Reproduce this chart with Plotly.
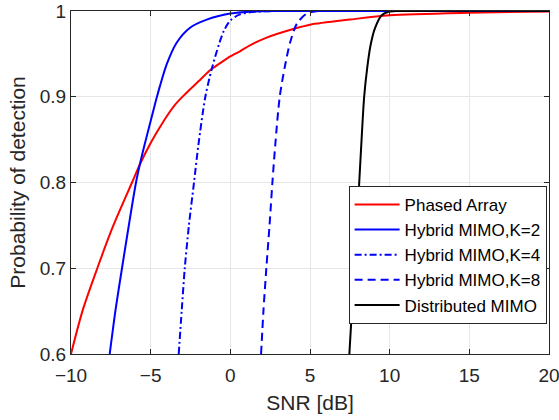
import plotly.graph_objects as go

# values (SNR in dB, probability of detection)
pa_snr = [-10, -9.25, -8.35, -7.36, -6.17, -5.63, -5, -4.5, -4, -3.5, -2.95, -2, -1.2,
          -0.5, 0, 0.6, 1.23, 2.28, 3.95, 5, 7.5, 10, 15, 20]
pa_pd = [0.600, 0.652, 0.700, 0.749, 0.800, 0.823, 0.846, 0.862, 0.877, 0.890, 0.901, 0.918,
         0.932, 0.941, 0.947, 0.953, 0.960, 0.969, 0.979, 0.984, 0.990, 0.995, 0.998, 0.9995]

k2_snr = [-7.57, -7.2, -6.8, -6.38, -5.92, -5.63, -5.3, -4.79, -4.62, -4.41, -3.99, -3.37,
          -2.53, -1.48, 0, 1.5, 3, 20]
k2_pd = [0.600, 0.652, 0.700, 0.749, 0.800, 0.825, 0.850, 0.887, 0.899, 0.913, 0.938, 0.963,
         0.9805, 0.990, 0.997, 0.9995, 1.0, 1.0]

k4_snr = [-3.24, -3.05, -2.86, -2.6, -2.28, -2.03, -1.57, -1.17, -0.7, -0.4, 0, 0.6, 1.5, 3, 20]
k4_pd = [0.600, 0.651, 0.700, 0.750, 0.800, 0.840, 0.900, 0.932, 0.962, 0.977, 0.989, 0.996,
         0.999, 1.0, 1.0]

k8_snr = [1.93, 2.08, 2.26, 2.46, 2.64, 2.82, 3.1, 3.42, 3.75, 4.17, 4.79, 5.5, 20]
k8_pd = [0.600, 0.651, 0.700, 0.750, 0.800, 0.844, 0.900, 0.935, 0.963, 0.985, 0.997, 1.0, 1.0]

dm_snr = [7.47, 7.62, 7.78, 7.94, 8.09, 8.24, 8.4, 8.6, 8.8, 9.08, 9.5, 9.92, 10.5, 20]
dm_pd = [0.600, 0.648, 0.700, 0.750, 0.800, 0.851, 0.900, 0.935, 0.960, 0.980, 0.995, 0.999,
         1.0, 1.0]

x_ticks = [-10, -5, 0, 5, 10, 15, 20]
y_ticks = [0.6, 0.7, 0.8, 0.9, 1.0]
y_ticktext = ['0.6', '0.7', '0.8', '0.9', '1']

FONT = 'Liberation Sans, Arial, sans-serif'

series = [
    ('Phased Array', pa_snr, pa_pd, '#ff0000', 'solid'),
    ('Hybrid MIMO,K=2', k2_snr, k2_pd, '#0000ff', 'solid'),
    ('Hybrid MIMO,K=4', k4_snr, k4_pd, '#0000ff', '7px,3px,2px,3px'),
    ('Hybrid MIMO,K=8', k8_snr, k8_pd, '#0000ff', '8px,5px'),
    ('Distributed MIMO', dm_snr, dm_pd, '#000000', 'solid'),
]

fig = go.Figure()
for name, xs, ys, color, dash in series:
    fig.add_trace(go.Scatter(
        x=xs, y=ys, mode='lines', name=name,
        line=dict(color=color, width=2, dash=dash, shape='spline', smoothing=0.8),
    ))

axis_style = dict(
    showline=True, linecolor='#262626', linewidth=1, mirror='ticks',
    ticks='inside', ticklen=5, tickcolor='#262626', ticklabeloverflow='allow',
    showgrid=True, gridcolor='#e6e6e6', gridwidth=1, automargin=False,
    zeroline=False, tickfont=dict(size=19, color='#262626', family=FONT),
)

fig.update_layout(
    width=559, height=420,
    margin=dict(l=71, r=10, t=11, b=66),
    paper_bgcolor='white', plot_bgcolor='white',
    font=dict(family=FONT, color='#262626'),
    showlegend=True,
    legend=dict(
        x=0.995, y=0.49, xanchor='right', yanchor='top',
        bgcolor='white', bordercolor='#262626', borderwidth=1,
        font=dict(size=17, family=FONT, color='#000000'),
        itemwidth=45, tracegroupgap=0,
    ),
    xaxis=dict(axis_style, range=[-10, 20], tickvals=x_ticks, ticklabelstandoff=4,
               title=dict(text='SNR [dB]', font=dict(size=21), standoff=10)),
    yaxis=dict(axis_style, range=[0.6, 1.0], tickvals=y_ticks, ticktext=y_ticktext,
               title=dict(text='Probability of detection', font=dict(size=21), standoff=8)),
)

# drop the default 8px body margin so the figure fills the window
fig.write_html("out.html", config={'displayModeBar': False},
               post_script="document.body.style.margin = '0';")
